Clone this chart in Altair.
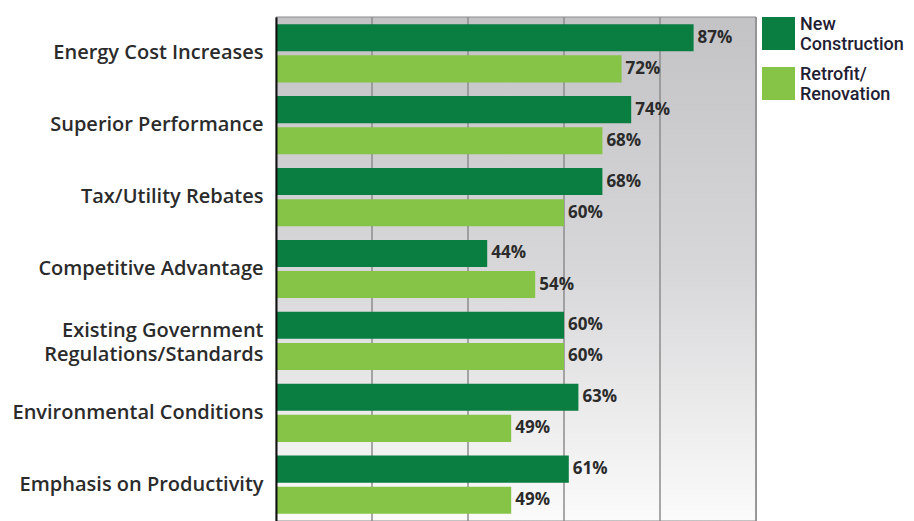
import altair as alt
import pandas as pd

categories = [
    "Energy Cost Increases",
    "Superior Performance",
    "Tax/Utility Rebates",
    "Competitive Advantage",
    "Existing Government|Regulations/Standards",
    "Environmental Conditions",
    "Emphasis on Productivity",
]
series = ["New|Construction", "Retrofit/|Renovation"]
new_construction = [87, 74, 68, 44, 60, 63, 61]
retrofit = [72, 68, 60, 54, 60, 49, 49]
grid_values = [20, 40, 60, 80, 100]
colors = ["#0a7d40", "#86c447"]

rows = []
for c, a, b in zip(categories, new_construction, retrofit):
    rows.append({"category": c, "series": series[0], "value": a})
    rows.append({"category": c, "series": series[1], "value": b})
df = pd.DataFrame(rows)
df["label"] = df["value"].astype(str) + "%"

FONT = "Open Sans"

x_scale = alt.Scale(domain=[0, 100], nice=False, zero=True)
y_enc = alt.Y(
    "category:N",
    sort=categories,
    scale=alt.Scale(paddingInner=0.19, paddingOuter=0.1),
    axis=alt.Axis(
        title=None,
        labelExpr="split(datum.label, '|')",
        labelBaseline=alt.condition(
            "indexof(datum.value, '|') >= 0", alt.value("bottom"), alt.value("middle")
        ),
        ticks=False,
        domainColor="#111111",
        domainWidth=2,
        labelFont=FONT,
        labelFontSize=20,
        labelFontWeight=600,
        labelColor="#2b2b2b",
        labelPadding=13,
        labelLineHeight=24,
        labelLimit=400,
        zindex=1,
    ),
)
yoff = alt.YOffset("series:N", sort=series, scale=alt.Scale(paddingInner=0.13, paddingOuter=0))

bg = alt.Chart(pd.DataFrame({"a": [0], "b": [100]})).mark_rect(
    fill=alt.LinearGradient(
        gradient="linear",
        stops=[
            alt.GradientStop(color="#c3c3c6", offset=0),
            alt.GradientStop(color="#d7d7d9", offset=0.5),
            alt.GradientStop(color="#fbfbfb", offset=1),
        ],
        x1=0, x2=0, y1=0, y2=1,
    ),
    stroke="#8a8a8a",
    strokeWidth=1,
).encode(
    x=alt.X("a:Q", scale=x_scale, axis=None),
    x2="b:Q",
)

grid = alt.Chart(pd.DataFrame({"g": grid_values})).mark_rule(
    color="#8c8c8c", strokeWidth=1.5
).encode(x=alt.X("g:Q", scale=x_scale, axis=None))

bars = alt.Chart(df).mark_bar().encode(
    x=alt.X("value:Q", scale=x_scale, axis=None),
    y=y_enc,
    yOffset=yoff,
    color=alt.Color(
        "series:N",
        sort=series,
        scale=alt.Scale(domain=series, range=colors),
        legend=alt.Legend(
            title=None,
            orient="none",
            legendX=486,
            legendY=0,
            symbolType="square",
            symbolSize=1089,
            symbolStrokeWidth=0,
            symbolOpacity=1,
            labelExpr="split(datum.label, '|')",
            labelBaseline="bottom",
            labelFont="Roboto",
            labelFontSize=18,
            labelFontWeight=500,
            labelColor="#1f2033",
            labelOffset=5,
            labelLimit=200,
            rowPadding=11,
        ),
    ),
)

text = alt.Chart(df).mark_text(
    align="left", baseline="middle", dx=4, font=FONT, fontSize=17,
    fontWeight="bold", color="#2b2b2b"
).encode(
    x=alt.X("value:Q", scale=x_scale, axis=None),
    y=y_enc,
    yOffset=yoff,
    text="label:N",
)

chart = alt.layer(bg, grid, bars, text).properties(
    width=480,
    height=504,
    padding={"left": 268, "top": 9, "right": 150, "bottom": 0},
    autosize=alt.AutoSizeParams(type="none"),
).configure_view(stroke=None).configure(background="white")

chart.save("out.html", embed_options={"renderer": "svg", "actions": False})
